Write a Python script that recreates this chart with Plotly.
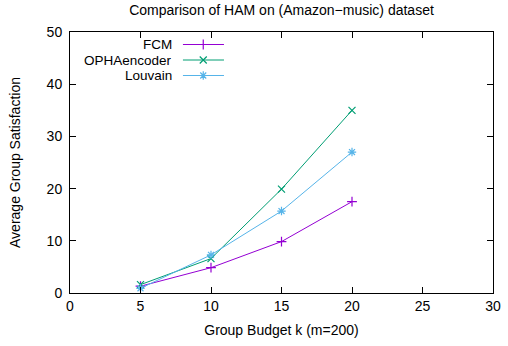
import plotly.graph_objects as go

budgets = [5, 10, 15, 20]
fcm = [1.3, 4.85, 9.85, 17.5]
opha = [1.6, 6.6, 19.9, 35.0]
louvain = [0.9, 7.3, 15.7, 27.0]

names = ["FCM", "OPHAencoder", "Louvain"]
colors = ["#9400d3", "#009e73", "#56b4e9"]
symbols = ["cross-thin", "x-thin", "asterisk-open"]
series = [fcm, opha, louvain]

FONT = "Liberation Sans, Arial, sans-serif"
FS = 14
fig = go.Figure()
for n, c, s, v in zip(names, colors, symbols, series):
    fig.add_trace(go.Scatter(
        x=budgets, y=v, mode="lines+markers", name=n,
        line=dict(color=c, width=1),
        marker=dict(symbol=s, size=7, color=c, line=dict(color=c, width=1.2)),
        showlegend=False))

# manual gnuplot-style legend (text left, sample right)
leg_y = [0.9521, 0.8927, 0.8333]
for n, c, s, yy in zip(names, colors, symbols, leg_y):
    fig.add_trace(go.Scatter(
        x=[0.267, 0.364], y=[yy, yy], mode="lines", xaxis="x2", yaxis="y2",
        line=dict(color=c, width=1), showlegend=False, hoverinfo="skip"))
    fig.add_trace(go.Scatter(
        x=[0.315], y=[yy], mode="markers", xaxis="x2", yaxis="y2",
        marker=dict(symbol=s, size=7, color=c, line=dict(color=c, width=1.2)),
        showlegend=False, hoverinfo="skip"))
    fig.add_annotation(x=0.243, y=yy, xref="x2", yref="y2", text=n,
                       showarrow=False, xanchor="right", yanchor="middle",
                       height=13, valign="middle", borderpad=0,
                       font=dict(family=FONT, size=13.5, color="black"))

axis_common = dict(showline=True, linecolor="black", linewidth=1, mirror="allticks",
                   ticks="inside", ticklen=6, tickcolor="black", showgrid=False,
                   zeroline=False, automargin=False,
                   tickfont=dict(family=FONT, size=FS, color="black"))

fig.update_layout(
    width=508, height=346,
    margin=dict(l=70, r=15, t=32, b=53, autoexpand=False),
    plot_bgcolor="white", paper_bgcolor="white",
    title=dict(text="Comparison of HAM on (Amazon\u2212music) dataset",
               x=(70 + 493) / 2 / 508, xanchor="center", y=1 - 10 / 346, yanchor="middle",
               automargin=False,
               font=dict(family=FONT, size=FS, color="black")),
    xaxis=dict(range=[0, 30], dtick=5, **axis_common,
               title=dict(text="Group Budget k (m=200)", standoff=12,
                          font=dict(family=FONT, size=FS, color="black"))),
    yaxis=dict(range=[0, 50], dtick=10, ticklabelstandoff=4, **axis_common,
               title=dict(text="Average Group Satisfaction", standoff=22,
                          font=dict(family=FONT, size=FS, color="black"))),
    xaxis2=dict(range=[0, 1], overlaying="x", visible=False, fixedrange=True),
    yaxis2=dict(range=[0, 1], overlaying="y", visible=False, fixedrange=True),
)

fig.write_html("out.html")
